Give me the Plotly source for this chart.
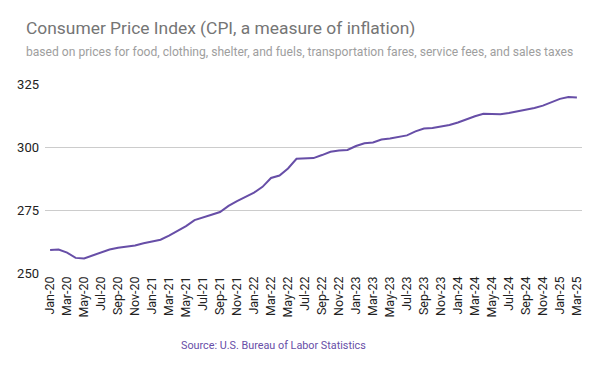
import plotly.graph_objects as go

months = ["Jan", "Feb", "Mar", "Apr", "May", "Jun", "Jul", "Aug", "Sep", "Oct", "Nov", "Dec"]
labels = [f"{m}-{y:02d}" for y in range(20, 26) for m in months][:63]

cpi = [
    259.1, 259.3, 258.1, 256.0, 255.8, 257.0, 258.4, 259.3, 260.0, 260.3, 260.9, 261.8,
    262.5, 263.2, 264.8, 266.8, 268.6, 271.0, 272.2, 273.1, 274.2, 276.6, 278.5, 280.1,
    281.9, 284.2, 287.7, 288.7, 291.5, 295.3, 295.3, 295.6, 296.8, 298.1, 298.6, 298.8,
    300.4, 301.5, 301.8, 303.0, 303.4, 304.0, 304.6, 306.2, 307.3, 307.5, 308.0, 308.7,
    309.7, 311.1, 312.2, 313.2, 313.2, 313.0, 313.5, 314.1, 314.7, 315.5, 316.4, 317.7,
    319.1, 319.8, 319.6,
]

tick_idx = list(range(0, 63, 2))
tick_text = [labels[i] for i in tick_idx]
y_ticks = [250, 275, 300, 325]

W, H = 600, 371
L, R, T, B = 45, 18, 84, 98
PW, PH = W - L - R, H - T - B


def px(x):
    return (x - L) / PW


def py(y):
    return (H - B - y) / PH


fig = go.Figure()
fig.add_trace(go.Scatter(
    x=list(range(len(cpi))), y=cpi, mode="lines",
    line=dict(color="#674ea7", width=2),
    hoverinfo="skip",
))

fig.update_layout(
    width=W, height=H,
    margin=dict(l=L, r=R, t=T, b=B, autoexpand=False),
    paper_bgcolor="white", plot_bgcolor="white",
    font=dict(family="Roboto", color="#222222"),
    showlegend=False,
    xaxis=dict(
        range=[-0.6, 62.6], automargin=False,
        tickmode="array", tickvals=tick_idx, ticktext=tick_text,
        tickangle=-90, tickfont=dict(size=12.5, color="#222222"),
        showgrid=False, zeroline=False, showline=False, ticks="",
    ),
    yaxis=dict(
        range=[250, 325], automargin=False,
        tickmode="array", tickvals=y_ticks,
        tickfont=dict(size=13, color="#222222"),
        showgrid=True, gridcolor="#cccccc", gridwidth=1,
        zeroline=False, showline=False, ticks="",
        ticklabelstandoff=5,
    ),
    annotations=[
        dict(text="Consumer Price Index (CPI, a measure of inflation)",
             xref="paper", yref="paper", x=px(24), y=py(28),
             xanchor="left", yanchor="middle", showarrow=False,
             font=dict(family="Roboto", size=17.4, color="#757575")),
        dict(text="based on prices for food, clothing, shelter, and fuels, transportation fares, service fees, and sales taxes",
             xref="paper", yref="paper", x=px(24), y=py(52),
             xanchor="left", yanchor="middle", showarrow=False,
             font=dict(family="Roboto", size=12.1, color="#9e9e9e")),
        dict(text="Source: U.S. Bureau of Labor Statistics",
             xref="paper", yref="paper", x=px(273), y=py(345),
             xanchor="center", yanchor="middle", showarrow=False,
             font=dict(family="Roboto", size=10.8, color="#674ea7")),
    ],
)

fig.write_html("out.html", config={"displayModeBar": False},
               post_script="document.body.style.margin='0px';")
